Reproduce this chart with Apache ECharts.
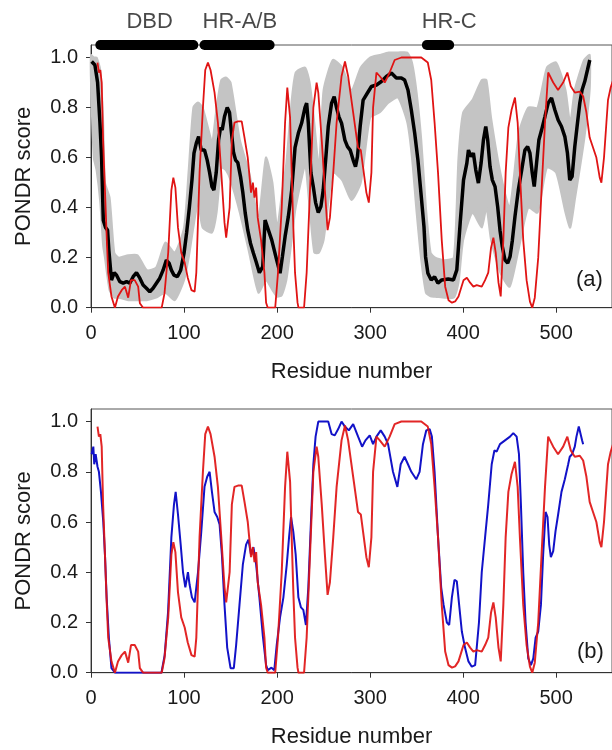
<!DOCTYPE html>
<html>
<head>
<meta charset="utf-8">
<script src="https://cdn.jsdelivr.net/npm/echarts@6/dist/echarts.min.js"></script>
<style>html,body{margin:0;padding:0;background:#fff;}#c{width:612px;height:750px;}</style>
</head>
<body>
<div id="c"></div>
<script>
// ---------- data ----------
const residueTicks = [0, 100, 200, 300, 400, 500];
const scoreTicks = [0, 0.2, 0.4, 0.6, 0.8, 1.0];

const domainNames = ['DBD', 'HR-A/B', 'HR-C'];
const domainStart = [10, 122, 361];
const domainEnd = [110, 192, 385];
const domainLabelX = [63, 160, 385];
const domainY = 1.05;

const redX = [7,8.5,10,11.5,13,15,17,18.5,22,25.7,29,33,36.5,40,43,47,50.7,52.5,56,76,79,83,86.4,88.5,90.7,93.5,97,100.7,104,108,111.4,113.2,116.7,120.3,122.8,125.7,128.5,132.8,136.4,140,143.5,145.3,149,151.4,154.2,158,162,165,168.5,172,174,175.7,177.5,179.2,182.8,186.4,188.2,190,198,201,205,208.6,211,214,215.7,217.5,219.3,222,223,229,231.8,235.4,239,242.5,244.3,248,251.4,254.3,256.8,260.4,264,269.3,273,276.4,281.8,287,290,292.5,296,298.6,301.4,303.2,306.8,310.4,315.7,321,326.4,333.6,355,362,365.7,369.3,373,377,380.7,384.3,388,391.4,395,400.4,404,407.5,411,414.6,420,423.6,427,430,432.5,435,438,440.4,443.2,445.7,448.6,452,455.7,458.6,461,464.6,468.2,471.8,474.3,477,480.7,484.3,488,491.4,493.2,496.8,502,507.5,512,515.7,520,525.4,529,532.5,536,539.6,543.2,546.8,548.6,551.4,554,555.7,558.6,562];
const redY = [0.98,0.94,0.95,0.90,0.67,0.47,0.27,0.14,0.045,0.0,0.045,0.07,0.084,0.04,0.11,0.11,0.084,0.018,0.0,0.0,0.057,0.22,0.47,0.52,0.48,0.32,0.22,0.18,0.12,0.07,0.064,0.14,0.54,0.80,0.95,0.98,0.95,0.86,0.74,0.54,0.34,0.28,0.40,0.67,0.74,0.745,0.745,0.68,0.60,0.46,0.50,0.44,0.48,0.36,0.27,0.14,0.02,0.0,0.0,0.14,0.40,0.74,0.88,0.76,0.54,0.32,0.14,0.02,0.0,0.0,0.14,0.47,0.80,0.90,0.86,0.67,0.47,0.31,0.36,0.54,0.74,0.925,0.984,0.925,0.78,0.64,0.63,0.56,0.46,0.42,0.54,0.80,0.94,0.925,0.90,0.94,0.99,1.0,1.0,0.98,0.91,0.74,0.54,0.27,0.084,0.03,0.02,0.025,0.045,0.11,0.12,0.10,0.084,0.09,0.084,0.11,0.14,0.24,0.28,0.22,0.10,0.045,0.27,0.54,0.72,0.79,0.84,0.74,0.54,0.27,0.11,0.024,0.0,0.04,0.20,0.47,0.74,0.94,0.945,0.90,0.87,0.90,0.94,0.885,0.86,0.864,0.845,0.78,0.68,0.64,0.60,0.52,0.50,0.60,0.74,0.83,0.88,0.92];

const blueX = [0.7,2.5,3.5,5,7,8.5,10.7,13.2,15,16.8,19.2,22,25.7,75.7,79.2,82.8,86.4,89.2,91,93.5,96.4,98.9,101.4,104.2,106,108.5,111.4,115,118.5,122,124.9,127.5,130,132.8,135.7,138.2,140.7,143.5,146.4,150,153.5,156,159.6,163.2,166.7,169.2,172,174.6,177.5,181,184.6,188.2,190,194,197,199.6,203.2,206.8,210.4,212.9,215,217.5,220,222.9,225.7,228.2,231,233.6,236.4,239,241.4,244.3,249.6,255,258.6,262,265.7,269.3,272.9,277.1,281.8,287.1,291.4,295,299.6,303.2,306.8,311.4,315.7,319.3,324.6,329.3,332.9,337,340.7,344.3,349.6,353.2,356.8,360.4,364,366.4,369.3,373,376.4,379,382.5,385,387.9,390.7,393.2,395.7,398.6,402,405.7,409.3,412.9,414.6,417,420,423.6,427,430.7,433.6,436,439.6,445,450.4,453.9,457.5,460,462.1,464.6,467.1,470,472.9,475.4,477.9,480.7,483.6,486,488.6,490.7,492.5,494.3,496.8,499.3,502.1,505.7,509.3,512.9,514.6,517.1,520,521.8,524.3,526.4,527.9,529];
const blueY = [0.87,0.90,0.83,0.87,0.82,0.80,0.72,0.60,0.47,0.30,0.14,0.018,0.0,0.0,0.07,0.24,0.54,0.67,0.72,0.63,0.51,0.40,0.34,0.40,0.35,0.30,0.28,0.40,0.56,0.74,0.78,0.80,0.72,0.64,0.62,0.59,0.47,0.27,0.10,0.018,0.018,0.11,0.27,0.43,0.51,0.53,0.47,0.50,0.43,0.30,0.15,0.03,0.01,0.02,0.01,0.11,0.22,0.30,0.43,0.54,0.62,0.56,0.47,0.30,0.26,0.25,0.19,0.34,0.60,0.83,0.94,1.0,1.0,1.0,0.95,0.945,0.97,1.0,0.98,0.965,0.99,0.94,0.90,0.925,0.945,0.91,0.94,0.965,0.94,0.91,0.80,0.74,0.83,0.86,0.83,0.80,0.77,0.80,0.91,0.965,0.97,0.94,0.80,0.54,0.34,0.27,0.20,0.19,0.30,0.37,0.364,0.27,0.164,0.10,0.045,0.024,0.03,0.10,0.20,0.40,0.54,0.67,0.83,0.885,0.88,0.91,0.925,0.94,0.954,0.94,0.87,0.67,0.40,0.20,0.057,0.03,0.057,0.14,0.164,0.27,0.47,0.64,0.62,0.51,0.46,0.484,0.564,0.63,0.72,0.77,0.83,0.86,0.87,0.90,0.94,0.98,0.98,0.925,0.91];

const meanX = [0.7,4.2,7.1,9.6,11.4,13.2,15.7,17.8,19.2,22,25,27.5,31,34.6,38.2,41.7,45.3,48.9,52.5,56,59.6,63.2,66.7,70.3,73.9,77.5,81,83.9,86.4,89.2,92.8,96.4,100,102.8,105.7,108.5,110.7,113.2,115.7,118.5,122,124.9,127.5,130,132.1,134.6,137.1,139.3,141,143.5,146.4,148.9,150.7,153.2,155.4,157.8,160.7,163.2,165.7,168.5,171.4,174.6,177.5,181,184.6,187.1,190.7,194.3,199.6,203.2,205.7,208.6,212.1,215.7,219.3,222.9,226.4,230,231.8,233.6,236.4,238.9,241.4,244.3,247.1,249.6,252.5,255,258.6,261.4,263.9,266.4,269.3,272.9,275.7,278.6,281.8,284.3,286.4,289.3,292.5,297.1,301.4,306.8,312.1,317.5,322.9,328.2,333.6,337.1,340.7,344.3,347.9,351.4,355,357.9,359.6,362.1,365.7,369.3,372.9,377,384,389.6,393.2,396.8,400.4,404,405.7,408.6,411,413.6,416.4,419.3,421.8,424.3,426.4,428.9,431.4,434.3,437.1,439.6,442.1,445,447.9,450.4,452.9,455.7,459.3,462.9,466.4,469.3,471.8,474.3,476.4,478.9,481.4,484.3,487.9,491.4,495,498.6,502.1,505.7,509.3,512.1,514.6,517.1,520,522.9,525.4,527.9,530.7,533.6,536.1];
const meanY = [0.984,0.97,0.90,0.74,0.60,0.35,0.32,0.31,0.23,0.11,0.14,0.13,0.104,0.098,0.104,0.098,0.124,0.14,0.118,0.091,0.078,0.064,0.078,0.098,0.118,0.15,0.19,0.178,0.15,0.13,0.124,0.15,0.218,0.30,0.40,0.51,0.618,0.658,0.684,0.63,0.63,0.59,0.54,0.484,0.47,0.54,0.67,0.72,0.71,0.764,0.80,0.78,0.71,0.62,0.59,0.58,0.524,0.46,0.38,0.31,0.258,0.218,0.184,0.14,0.164,0.35,0.31,0.27,0.19,0.138,0.204,0.284,0.364,0.47,0.64,0.698,0.738,0.80,0.818,0.738,0.538,0.484,0.42,0.38,0.404,0.47,0.604,0.724,0.818,0.844,0.80,0.764,0.738,0.67,0.644,0.63,0.59,0.564,0.604,0.724,0.83,0.858,0.884,0.89,0.904,0.924,0.938,0.918,0.918,0.91,0.87,0.79,0.698,0.59,0.444,0.324,0.204,0.138,0.111,0.124,0.098,0.111,0.115,0.111,0.151,0.338,0.51,0.578,0.63,0.604,0.618,0.55,0.498,0.578,0.67,0.724,0.67,0.564,0.51,0.484,0.404,0.31,0.244,0.19,0.178,0.204,0.27,0.364,0.47,0.55,0.63,0.644,0.618,0.538,0.484,0.578,0.67,0.71,0.764,0.818,0.838,0.79,0.75,0.724,0.684,0.618,0.51,0.524,0.644,0.738,0.818,0.871,0.904,0.95,0.99];

const bandX = [0,3,6,10,13,15,20,25,30,40,50,60,70,80,90,100,105,110,115,120,130,135,140,145,150,160,170,180,188,195,200,205,210,215,220,230,235,240,245,250,260,270,280,290,300,310,320,330,340,345,350,355,360,365,370,380,390,395,400,410,420,425,430,440,450,460,470,480,490,500,510,515,520,530,536];
const bandLo = [0.90,0.60,0.55,0.42,0.25,0.20,0.07,0.04,0.04,0.03,0.03,0.03,0.04,0.06,0.03,0.11,0.20,0.32,0.42,0.32,0.30,0.38,0.56,0.55,0.51,0.38,0.22,0.06,0.11,0.07,0.044,0.05,0.11,0.25,0.40,0.56,0.40,0.22,0.22,0.27,0.54,0.51,0.43,0.50,0.76,0.78,0.82,0.84,0.74,0.60,0.38,0.19,0.06,0.045,0.044,0.04,0.04,0.10,0.27,0.38,0.32,0.40,0.27,0.14,0.084,0.24,0.40,0.38,0.56,0.54,0.38,0.32,0.43,0.67,0.87];
const bandHi = [1.01,1.0,1.0,0.95,0.75,0.50,0.44,0.22,0.20,0.21,0.21,0.15,0.16,0.26,0.22,0.32,0.55,0.80,0.82,0.80,0.67,0.80,0.91,0.92,0.90,0.67,0.54,0.36,0.60,0.50,0.32,0.45,0.58,0.80,0.94,0.96,0.90,0.74,0.56,0.87,0.99,0.96,0.87,0.96,1.0,1.01,1.02,1.02,1.02,0.98,0.86,0.67,0.40,0.22,0.20,0.19,0.20,0.60,0.78,0.83,0.91,0.91,0.76,0.54,0.40,0.70,0.80,0.80,0.96,0.98,0.87,0.74,0.87,0.99,1.01];

// ---------- helpers ----------
const zip = (xs, ys) => xs.map((x, i) => [x, ys[i]]);
const FONT = "'Liberation Sans', Arial, sans-serif";
const TXT = '#1a1a1a';
const AX = '#333';

function xAxisCfg(idx) {
  return {
    type: 'value', gridIndex: idx, min: 0, max: 560,
    name: 'Residue number', nameLocation: 'middle', nameGap: 53,
    nameTextStyle: { fontFamily: FONT, fontSize: 22, color: TXT },
    axisLine: { show: true, lineStyle: { color: AX, width: 1 } },
    axisTick: { show: true, length: 5, lineStyle: { color: AX }, customValues: residueTicks },
    axisLabel: { fontFamily: FONT, fontSize: 20, color: TXT, margin: 16, customValues: residueTicks },
    splitLine: { show: false }
  };
}
function yAxisCfg(idx) {
  return {
    type: 'value', gridIndex: idx, min: 0, max: 1.05,
    name: 'PONDR score', nameLocation: 'middle', nameGap: 56, nameRotate: 90,
    nameTextStyle: { fontFamily: FONT, fontSize: 22, color: TXT },
    axisLine: { show: true, lineStyle: { color: AX, width: 1 } },
    axisTick: { show: true, length: 5, lineStyle: { color: AX }, customValues: scoreTicks },
    axisLabel: { fontFamily: FONT, fontSize: 20, color: TXT, margin: 13, customValues: scoreTicks,
      formatter: v => v.toFixed(1) },
    splitLine: { show: false }
  };
}

const series = [];
// gray band (top): polygon between lower and upper bounds, via the axis scales
series.push({
  type: 'custom', xAxisIndex: 0, yAxisIndex: 0, z: 1, silent: true,
  data: bandX.map((x, i) => [x, bandLo[i], bandHi[i]]),
  encode: { x: 0, y: [1, 2] },
  renderItem: (params, api) => {
    if (params.dataIndex !== 0) return null;
    const top = bandX.map((x, i) => api.coord([x, bandHi[i]]));
    const bot = bandX.map((x, i) => api.coord([x, bandLo[i]])).reverse();
    return { type: 'polygon', shape: { points: top.concat(bot), smooth: 0.2 },
      style: { fill: '#c4c4c4', stroke: '#c4c4c4', lineWidth: 2 } };
  }
});
// black mean
series.push({ type: 'line', xAxisIndex: 0, yAxisIndex: 0, data: zip(meanX, meanY),
  showSymbol: false, symbol: 'none', lineStyle: { color: '#000', width: 3.5 }, z: 3 });
// red top
series.push({ type: 'line', xAxisIndex: 0, yAxisIndex: 0, data: zip(redX, redY),
  showSymbol: false, symbol: 'none', lineStyle: { color: '#e01414', width: 1.8 }, z: 4 });
// blue bottom
series.push({ type: 'line', xAxisIndex: 1, yAxisIndex: 1, data: zip(blueX, blueY),
  showSymbol: false, symbol: 'none', lineStyle: { color: '#1212c8', width: 2 }, z: 3 });
// red bottom
series.push({ type: 'line', xAxisIndex: 1, yAxisIndex: 1, data: zip(redX, redY),
  showSymbol: false, symbol: 'none', lineStyle: { color: '#e01414', width: 2, opacity: 0.92 }, z: 4 });
// domain bars
domainNames.forEach((n, i) => {
  series.push({ type: 'line', xAxisIndex: 0, yAxisIndex: 0, clip: false,
    data: [[domainStart[i], domainY], [domainEnd[i], domainY]],
    showSymbol: false, symbol: 'none', lineStyle: { color: '#000', width: 10, cap: 'round' }, z: 6, silent: true });
});
series.push({ type: 'scatter', xAxisIndex: 0, yAxisIndex: 0, clip: false, symbolSize: 0.1,
  data: domainLabelX.map((x, i) => ({ value: [x, domainY], name: domainNames[i] })),
  label: { show: true, position: 'inside', offset: [0, -23], formatter: p => p.name,
    fontFamily: FONT, fontSize: 22, color: TXT }, z: 6, silent: true });

const option = {
  animation: false,
  backgroundColor: '#fff',
  grid: [
    { left: 91, top: 45, width: 523, height: 262.7, show: true, borderColor: '#555', borderWidth: 1, backgroundColor: 'transparent' },
    { left: 91, top: 409, width: 523, height: 263.7, show: true, borderColor: '#555', borderWidth: 1, backgroundColor: 'transparent' }
  ],
  xAxis: [xAxisCfg(0), xAxisCfg(1)],
  yAxis: [yAxisCfg(0), yAxisCfg(1)],
  graphic: [
    { type: 'text', left: 576, top: 269, style: { text: '(a)', font: "22px 'Liberation Sans', Arial, sans-serif", fill: TXT }, z: 10 },
    { type: 'text', left: 577, top: 641, style: { text: '(b)', font: "22px 'Liberation Sans', Arial, sans-serif", fill: TXT }, z: 10 }
  ],
  series: series
};

const chart = echarts.init(document.getElementById('c'), null, { renderer: 'canvas' });
chart.setOption(option);
</script>
</body>
</html>
